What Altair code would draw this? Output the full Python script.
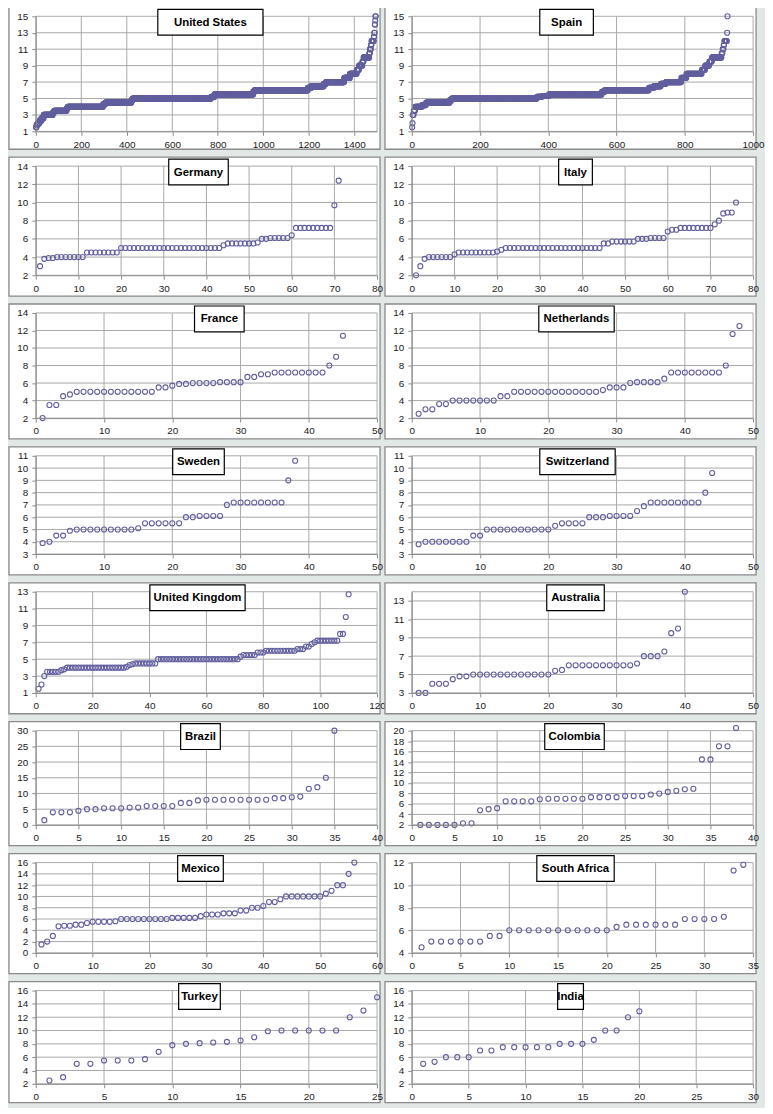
import altair as alt
import numpy as np
import pandas as pd

# ---------------- data ----------------
# dense panels given as run-lengths: level value -> number of sorted observations
us_levels = [1.5, 1.8, 2.0, 2.3, 2.6, 3.0, 3.3, 3.5, 3.8, 4.0, 4.3, 4.5, 4.8, 5.0, 5.2, 5.5, 5.8,
             6.0, 6.3, 6.5, 6.8, 7.0, 7.5, 8.0, 8.5, 9.0, 9.5, 10.0, 10.5, 11.0, 11.5, 12.0,
             12.5, 13.0, 14.0, 14.5, 15.0]
us_counts = [3, 5, 8, 8, 10, 40, 6, 55, 5, 155, 10, 115, 5, 345, 15, 170, 5,
             235, 15, 55, 10, 80, 25, 30, 10, 15, 5, 25, 3, 4, 3, 10,
             2, 2, 2, 1, 2]

spain_levels = [1.5, 2.0, 3.0, 3.5, 4.0, 4.2, 4.5, 4.8, 5.0, 5.2, 5.3, 5.5, 5.8, 6.0, 6.3,
                6.5, 6.8, 7.0, 7.5, 8.0, 8.5, 9.0, 9.5, 10.0, 10.5, 11.0, 11.5, 12.0, 13.0, 15.0]
spain_counts = [1, 1, 3, 4, 20, 12, 70, 5, 250, 15, 20, 155, 8, 130, 15,
                20, 15, 45, 15, 45, 10, 12, 8, 28, 3, 3, 2, 8, 1, 1]

germany = [3.0, 3.8, 3.9, 3.9, 4.0, 4.0, 4.0, 4.0, 4.0, 4.0, 4.0,
           4.5, 4.5, 4.5, 4.5, 4.5, 4.5, 4.5, 4.5,
           5.0, 5.0, 5.0, 5.0, 5.0, 5.0, 5.0, 5.0, 5.0, 5.0, 5.0, 5.0,
           5.0, 5.0, 5.0, 5.0, 5.0, 5.0, 5.0, 5.0, 5.0, 5.0, 5.0, 5.0,
           5.3, 5.5, 5.5, 5.5, 5.5, 5.5, 5.5, 5.5, 5.6, 6.0, 6.0,
           6.1, 6.1, 6.1, 6.1, 6.1, 6.4,
           7.2, 7.2, 7.2, 7.2, 7.2, 7.2, 7.2, 7.2, 7.2, 9.7, 12.4]

italy = [2.0, 3.0, 3.8, 4.0, 4.0, 4.0, 4.0, 4.0, 4.0, 4.3,
         4.5, 4.5, 4.5, 4.5, 4.5, 4.5, 4.5, 4.5, 4.5, 4.6, 4.8,
         5.0, 5.0, 5.0, 5.0, 5.0, 5.0, 5.0, 5.0, 5.0, 5.0, 5.0, 5.0,
         5.0, 5.0, 5.0, 5.0, 5.0, 5.0, 5.0, 5.0, 5.0, 5.0, 5.0,
         5.5, 5.5, 5.7, 5.7, 5.7, 5.7, 5.7, 5.7, 6.0, 6.0, 6.0,
         6.1, 6.1, 6.1, 6.1, 6.8, 7.0, 7.0,
         7.2, 7.2, 7.2, 7.2, 7.2, 7.2, 7.2, 7.2, 7.6, 8.0, 8.8, 8.9, 8.9, 10.0]

france = [2.0, 3.5, 3.5, 4.5, 4.7, 5.0, 5.0, 5.0, 5.0, 5.0, 5.0, 5.0, 5.0, 5.0, 5.0, 5.0, 5.0,
          5.5, 5.5, 5.7, 5.9, 5.9, 6.0, 6.0, 6.0, 6.0, 6.1, 6.1, 6.1, 6.1,
          6.7, 6.7, 7.0, 7.0, 7.2, 7.2, 7.2, 7.2, 7.2, 7.2, 7.2, 7.2, 8.0, 9.0, 11.4]

netherlands = [2.5, 3.0, 3.0, 3.6, 3.6, 4.0, 4.0, 4.0, 4.0, 4.0, 4.0, 4.0, 4.5, 4.5,
               5.0, 5.0, 5.0, 5.0, 5.0, 5.0, 5.0, 5.0, 5.0, 5.0, 5.0, 5.0, 5.0,
               5.2, 5.5, 5.5, 5.5, 6.0, 6.1, 6.1, 6.1, 6.1, 6.5,
               7.2, 7.2, 7.2, 7.2, 7.2, 7.2, 7.2, 7.2, 8.0, 11.6, 12.5]

sweden = [3.9, 4.0, 4.5, 4.5, 4.9, 5.0, 5.0, 5.0, 5.0, 5.0, 5.0, 5.0, 5.0, 5.0, 5.1,
          5.5, 5.5, 5.5, 5.5, 5.5, 5.5, 6.0, 6.0, 6.1, 6.1, 6.1, 6.1, 7.0,
          7.2, 7.2, 7.2, 7.2, 7.2, 7.2, 7.2, 7.2, 9.0, 10.6]

switzerland = [3.8, 4.0, 4.0, 4.0, 4.0, 4.0, 4.0, 4.0, 4.5, 4.5,
               5.0, 5.0, 5.0, 5.0, 5.0, 5.0, 5.0, 5.0, 5.0, 5.0, 5.3, 5.5, 5.5, 5.5, 5.5,
               6.0, 6.0, 6.0, 6.1, 6.1, 6.1, 6.1, 6.5, 6.9,
               7.2, 7.2, 7.2, 7.2, 7.2, 7.2, 7.2, 7.2, 8.0, 9.6]

united_kingdom = [1.5, 2.0, 3.0, 3.5, 3.5, 3.5, 3.5, 3.5, 3.7, 3.8,
                  4.0, 4.0, 4.0, 4.0, 4.0, 4.0, 4.0, 4.0, 4.0, 4.0, 4.0,
                  4.0, 4.0, 4.0, 4.0, 4.0, 4.0, 4.0, 4.0, 4.0, 4.0,
                  4.1, 4.3, 4.4, 4.5, 4.5, 4.5, 4.5, 4.5, 4.5, 4.5, 4.5,
                  5.0, 5.0, 5.0, 5.0, 5.0, 5.0, 5.0, 5.0, 5.0, 5.0,
                  5.0, 5.0, 5.0, 5.0, 5.0, 5.0, 5.0, 5.0, 5.0, 5.0,
                  5.0, 5.0, 5.0, 5.0, 5.0, 5.0, 5.0, 5.0, 5.0,
                  5.3, 5.5, 5.5, 5.5, 5.5, 5.5, 5.8, 5.8, 5.8,
                  6.0, 6.0, 6.0, 6.0, 6.0, 6.0, 6.0, 6.0, 6.0, 6.0, 6.0,
                  6.2, 6.2, 6.2, 6.5, 6.5, 6.8, 7.0,
                  7.2, 7.2, 7.2, 7.2, 7.2, 7.2, 7.2, 7.2, 8.0, 8.0, 10.0, 12.7]

australia = [3.0, 3.0, 4.0, 4.0, 4.0, 4.5, 4.8, 4.8,
             5.0, 5.0, 5.0, 5.0, 5.0, 5.0, 5.0, 5.0, 5.0, 5.0, 5.0, 5.0, 5.4, 5.5,
             6.0, 6.0, 6.0, 6.0, 6.0, 6.0, 6.0, 6.0, 6.0, 6.0, 6.2,
             7.0, 7.0, 7.0, 7.5, 9.5, 10.0, 14.0]

brazil = [1.5, 4.0, 4.0, 4.0, 4.5, 5.0, 5.0, 5.3, 5.3, 5.3, 5.5, 5.5, 6.0, 6.0, 6.0, 6.0,
          7.0, 7.0, 7.8, 8.0, 8.0, 8.0, 8.0, 8.0, 8.0, 8.0, 8.0, 8.5, 8.5, 8.8, 9.0,
          11.5, 12.0, 15.0, 30.0]

colombia = [2.0, 2.0, 2.0, 2.0, 2.0, 2.3, 2.3, 4.8, 5.0, 5.2, 6.5, 6.5, 6.5, 6.5, 6.9,
            7.0, 7.0, 7.0, 7.0, 7.0, 7.3, 7.3, 7.3, 7.3, 7.5, 7.5, 7.5, 7.8, 8.0, 8.3,
            8.5, 8.8, 8.9, 14.5, 14.5, 17.0, 17.0, 20.5]

mexico = [1.5, 2.0, 3.0, 4.7, 4.8, 4.8, 5.0, 5.0, 5.3, 5.5, 5.5, 5.5, 5.5, 5.6,
          6.0, 6.0, 6.0, 6.0, 6.0, 6.0, 6.0, 6.0, 6.0, 6.2, 6.2, 6.2, 6.2, 6.2,
          6.5, 6.8, 6.8, 6.8, 7.0, 7.0, 7.0, 7.5, 7.5, 8.0, 8.0, 8.3, 9.0, 9.0, 9.5,
          10.0, 10.0, 10.0, 10.0, 10.0, 10.0, 10.0, 10.5, 11.0, 12.0, 12.0, 14.0, 16.0]

south_africa = [4.5, 5.0, 5.0, 5.0, 5.0, 5.0, 5.0, 5.5, 5.5,
                6.0, 6.0, 6.0, 6.0, 6.0, 6.0, 6.0, 6.0, 6.0, 6.0, 6.0, 6.3,
                6.5, 6.5, 6.5, 6.5, 6.5, 6.5, 7.0, 7.0, 7.0, 7.0, 7.2, 11.3, 11.8]

turkey = [2.5, 3.0, 5.0, 5.0, 5.5, 5.5, 5.5, 5.7, 6.8, 7.8, 8.0, 8.1, 8.2, 8.3, 8.5, 9.0,
          9.9, 10.0, 10.0, 10.0, 10.0, 10.0, 12.0, 13.0, 15.0]

india = [5.0, 5.3, 6.0, 6.0, 6.0, 7.0, 7.0, 7.5, 7.5, 7.5, 7.5, 7.5, 8.0, 8.0, 8.0, 8.6,
         10.0, 10.0, 12.0, 12.9]

us_values = list(np.repeat(us_levels, us_counts))
spain_values = list(np.repeat(spain_levels, spain_counts))

# panel: title, values, x-domain, x-ticks, y-domain, y-ticks, title-box centre, title-box width
PANELS = [
    ("United States", us_values, (0, 1500), list(range(0, 1401, 200)), (1, 15), list(range(1, 16, 2)), 176, 106),
    ("Spain", spain_values, (0, 1000), list(range(0, 1001, 200)), (1, 15), list(range(1, 16, 2)), 156, 54),
    ("Germany", germany, (0, 80), list(range(0, 81, 10)), (2, 14), list(range(2, 15, 2)), 164, 60),
    ("Italy", italy, (0, 80), list(range(0, 81, 10)), (2, 14), list(range(2, 15, 2)), 165, 34),
    ("France", france, (0, 50), list(range(0, 51, 10)), (2, 14), list(range(2, 15, 2)), 185, 50),
    ("Netherlands", netherlands, (0, 50), list(range(0, 51, 10)), (2, 14), list(range(2, 15, 2)), 166, 76),
    ("Sweden", sweden, (0, 50), list(range(0, 51, 10)), (3, 11), list(range(3, 12)), 164, 52),
    ("Switzerland", switzerland, (0, 50), list(range(0, 51, 10)), (3, 11), list(range(3, 12)), 167, 76),
    ("United Kingdom", united_kingdom, (0, 120), list(range(0, 121, 20)), (1, 13), list(range(1, 14, 2)), 163, 96),
    ("Australia", australia, (0, 50), list(range(0, 51, 10)), (3, 14), list(range(3, 14, 2)), 165, 58),
    ("Brazil", brazil, (0, 40), list(range(0, 41, 5)), (0, 30), list(range(0, 31, 5)), 166, 40),
    ("Colombia", colombia, (0, 40), list(range(0, 41, 5)), (2, 20), list(range(2, 21, 2)), 164, 60),
    ("Mexico", mexico, (0, 60), list(range(0, 61, 10)), (0, 16), list(range(0, 17, 2)), 166, 46),
    ("South Africa", south_africa, (0, 35), list(range(0, 36, 5)), (4, 12), list(range(4, 13, 2)), 165, 78),
    ("Turkey", turkey, (0, 25), list(range(0, 26, 5)), (2, 16), list(range(2, 17, 2)), 165, 42),
    ("India", india, (0, 30), list(range(0, 31, 5)), (2, 16), list(range(2, 17, 2)), 160, 26),
]
ROW_HEIGHTS = [116, 110, 106, 99, 102, 95, 91, 94]
ROW_BOTTOM_PAD = [18, 21, 21, 21, 21, 21, 21, 19]

# ---------------- style ----------------
W = 344
FONT = "Liberation Sans Narrow, Arial Narrow, Liberation Sans, Arial, sans-serif"
PURPLE = "#625f9f"
GRID = "#a8a8a8"
AXIS = "#8c8c8c"
BORDER = "#8a8a8a"
BG = "#e2e8e6"


def make_axis(vals, pad):
    return alt.Axis(values=vals, title=None, grid=False, domain=True, domainColor=AXIS,
                    ticks=True, tickColor=AXIS, tickSize=4, labelPadding=pad, labelFont=FONT,
                    labelFontSize=10, labelColor="#1a1a1a", format="d", labelFlush=False,
                    labelOverlap=False, zindex=1)


def panel(title, values, xdom, xticks, ydom, yticks, cx, bw, h, bpad):
    xs = alt.Scale(domain=list(xdom), nice=False, zero=False)
    ys = alt.Scale(domain=list(ydom), nice=False, zero=False)
    xax = make_axis(xticks, 4)
    yax = make_axis(yticks, 4)
    one = pd.DataFrame({"t": [title]})

    bg = alt.Chart(one).mark_rect(fill="white", stroke=BORDER, strokeWidth=1.3).encode(
        x=alt.value(-27), x2=alt.value(W + 3), y=alt.value(-9), y2=alt.value(h + bpad))

    xg = sorted(set(xticks + [xdom[1]]))
    yg = sorted(set(yticks + [ydom[1]]))
    vgrid = alt.Chart(pd.DataFrame({"x": xg})).mark_rule(color=GRID, strokeWidth=1).encode(
        x=alt.X("x:Q", scale=xs, axis=xax))
    hgrid = alt.Chart(pd.DataFrame({"y": yg})).mark_rule(color=GRID, strokeWidth=1).encode(
        y=alt.Y("y:Q", scale=ys, axis=yax))

    pts = pd.DataFrame({"x": np.arange(1, len(values) + 1), "y": values})
    points = alt.Chart(pts).mark_point(shape="circle", filled=False, color=PURPLE, size=26,
                                       strokeWidth=1.1, opacity=1, clip=False).encode(
        x=alt.X("x:Q", scale=xs, axis=xax),
        y=alt.Y("y:Q", scale=ys, axis=yax),
    )

    box = alt.Chart(one).mark_rect(fill="white", stroke="black", strokeWidth=1.2).encode(
        x=alt.value(cx - bw / 2), x2=alt.value(cx + bw / 2), y=alt.value(-7), y2=alt.value(19))
    txt = alt.Chart(one).mark_text(font=FONT, fontWeight="bold", fontSize=11.5, color="black",
                                   align="center", baseline="middle").encode(
        x=alt.value(cx), y=alt.value(6.5), text="t:N")

    return alt.layer(bg, vgrid, hgrid, points, box, txt).properties(width=W, height=h)


rows = []
for r in range(8):
    left = panel(*PANELS[2 * r][:8], ROW_HEIGHTS[r], ROW_BOTTOM_PAD[r])
    right = panel(*PANELS[2 * r + 1][:8], ROW_HEIGHTS[r], ROW_BOTTOM_PAD[r])
    rows.append(alt.hconcat(left, right, spacing=35, bounds="flush"))

chart = alt.vconcat(*rows, spacing=6).properties(
    padding={"left": 0, "top": -6, "right": 0, "bottom": 0}
).configure(background=BG).configure_view(stroke=None)

chart.save("out.html", embed_options={"renderer": "svg", "actions": False})
